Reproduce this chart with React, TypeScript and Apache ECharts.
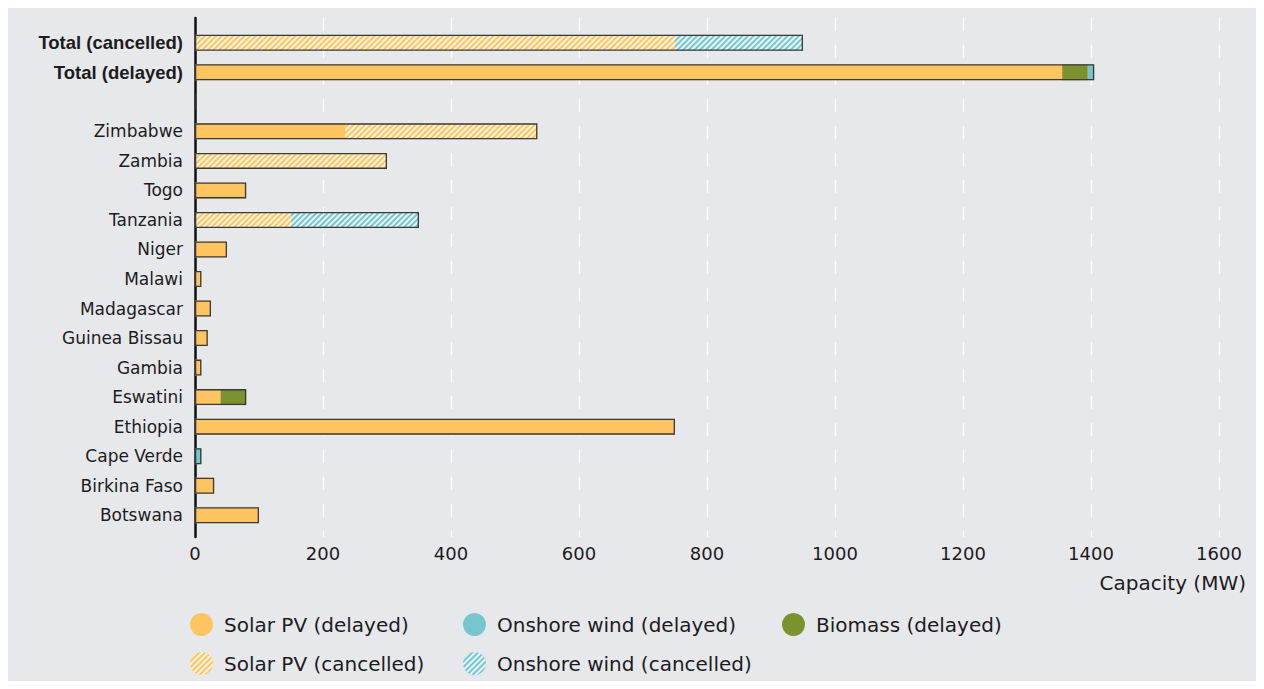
import React, { useEffect, useRef } from "react";
import * as echarts from "echarts";

const categories = [
  "Total (cancelled)",
  "Total (delayed)",
  "",
  "Zimbabwe",
  "Zambia",
  "Togo",
  "Tanzania",
  "Niger",
  "Malawi",
  "Madagascar",
  "Guinea Bissau",
  "Gambia",
  "Eswatini",
  "Ethiopia",
  "Cape Verde",
  "Birkina Faso",
  "Botswana",
];

const solarDelayed = [null, 1355, null, 235, null, 80, null, 50, 10, 25, 20, 10, 40, 750, null, 30, 100];
const biomassDelayed = [null, 40, null, null, null, null, null, null, null, null, null, null, 40, null, null, null, null];
const windDelayed = [null, 10, null, null, null, null, null, null, null, null, null, null, null, null, 10, null, null];
const solarCancelled = [750, null, null, 300, 300, null, 150, null, null, null, null, null, null, null, null, null, null];
const windCancelled = [200, null, null, null, null, null, 200, null, null, null, null, null, null, null, null, null, null];

const xTicks = { min: 0, max: 1600, interval: 200 };

const SOLAR = "#fec460";
const WIND = "#78c6cd";
const BIOMASS = "#7b922e";
const FONT = "'DejaVu Sans', sans-serif";
const BOLD_FONT = "'Liberation Sans', Arial, sans-serif";
const TEXT = "#1c1c1c";

const hatch = {
  symbol: "rect",
  symbolSize: 1,
  color: "rgba(255,255,255,0.82)",
  dashArrayX: [1, 0],
  dashArrayY: [1.4, 1.5],
  rotation: -Math.PI / 4,
};

export default function App() {
  const ref = useRef<HTMLDivElement>(null);
  useEffect(() => {
    if (!ref.current) return;
    const chart = echarts.init(ref.current, undefined, { renderer: "svg" });
    const totals = categories.map((_, i) =>
      [solarDelayed, biomassDelayed, windDelayed, solarCancelled, windCancelled].reduce(
        (s, arr) => s + (arr[i] ?? 0),
        0
      )
    );
    const seg = (name: string, data: any[], color: string, decal?: any) => ({
      name,
      type: "bar",
      stack: "all",
      data,
      barWidth: 16,
      itemStyle: decal ? { color, decal } : { color },
      emphasis: { disabled: true },
    });
    const legendBase = {
      orient: "horizontal",
      icon: "circle",
      itemWidth: 23,
      itemHeight: 23,
      padding: 0,
      selectedMode: false,
      itemStyle: { borderWidth: 0 },
      textStyle: { fontFamily: FONT, fontSize: 20, color: TEXT, padding: [0, 0, 0, 6] },
    };
    chart.setOption({
      animation: false,
      backgroundColor: "#e7e8ec",
      grid: [
        { left: 187, right: 37, top: 20, bottom: 151, containLabel: false },
        { left: 187, right: 37, top: 10, bottom: 144, containLabel: false },
      ],
      legend: [
        { ...legendBase, left: 182, top: 605, data: ["Solar PV (delayed)"] },
        { ...legendBase, left: 455, top: 605, data: ["Onshore wind (delayed)"] },
        { ...legendBase, left: 774, top: 605, data: ["Biomass (delayed)"] },
        { ...legendBase, left: 182, top: 644, data: ["Solar PV (cancelled)"] },
        { ...legendBase, left: 455, top: 644, data: ["Onshore wind (cancelled)"] },
      ],
      xAxis: [
        {
          type: "value",
          gridIndex: 0,
          min: xTicks.min,
          max: xTicks.max,
          interval: xTicks.interval,
          axisLine: { show: false },
          axisTick: { show: false },
          axisLabel: { show: false },
          splitLine: { show: false },
        },
        {
          type: "value",
          gridIndex: 1,
          min: xTicks.min,
          max: xTicks.max,
          interval: xTicks.interval,
          name: "Capacity (MW)",
          nameLocation: "end",
          nameGap: 27,
          nameTextStyle: {
            fontFamily: FONT,
            fontSize: 20,
            color: TEXT,
            align: "right",
            verticalAlign: "top",
            padding: [36, 0, 0, 0],
          },
          axisLine: { show: false },
          axisTick: { show: false },
          axisLabel: {
            fontFamily: FONT,
            fontSize: 18,
            color: TEXT,
            margin: 7,
            formatter: (v: number) => String(v),
          },
          splitLine: { show: true, lineStyle: { color: "#ffffff", width: 1.4, type: [13, 14] } },
        },
      ],
      yAxis: [
        {
          type: "category",
          gridIndex: 0,
          inverse: true,
          data: categories,
          axisLine: { show: false },
          axisTick: { show: false },
          axisLabel: {
            fontFamily: FONT,
            fontSize: 17,
            color: TEXT,
            margin: 12,
            interval: 0,
            formatter: (v: string) => (v.startsWith("Total") ? `{b|${v}}` : v),
            rich: { b: { fontFamily: BOLD_FONT, fontSize: 18.5, fontWeight: "bold", color: TEXT } },
          },
        },
        {
          type: "value",
          gridIndex: 1,
          min: 0,
          max: 1,
          axisLine: { show: true, lineStyle: { color: "#111", width: 2.5 } },
          axisTick: { show: false },
          axisLabel: { show: false },
          splitLine: { show: false },
        },
      ],
      series: [
        seg("Solar PV (delayed)", solarDelayed, SOLAR),
        seg("Biomass (delayed)", biomassDelayed, BIOMASS),
        seg("Onshore wind (delayed)", windDelayed, WIND),
        seg("Solar PV (cancelled)", solarCancelled, SOLAR, hatch),
        seg("Onshore wind (cancelled)", windCancelled, WIND, hatch),
        {
          name: "outline",
          type: "bar",
          data: totals,
          barWidth: 16,
          barGap: "-100%",
          silent: true,
          z: 3,
          itemStyle: { color: "rgba(0,0,0,0)", borderColor: "#3a3a3a", borderWidth: 1.3 },
          emphasis: { disabled: true },
        },
      ],
    });
    return () => chart.dispose();
  }, []);
  return <div ref={ref} style={{ width: 1248, height: 673 }} />;
}
